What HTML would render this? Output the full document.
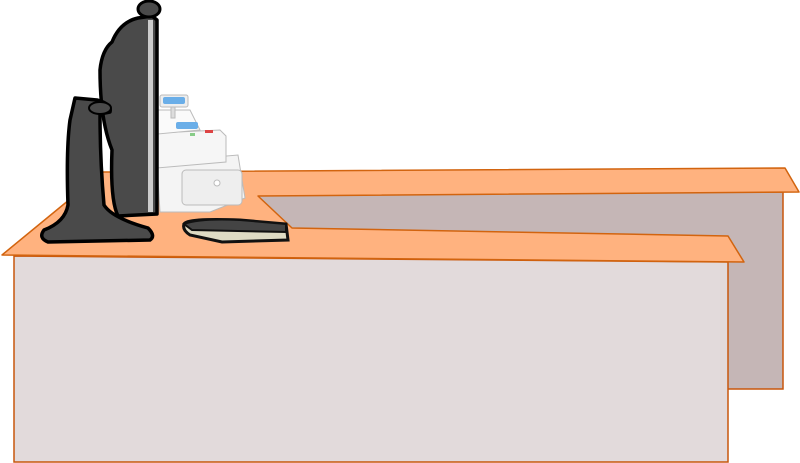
<!DOCTYPE html>
<html><head><style>html,body{margin:0;padding:0;background:#fff;width:800px;height:463px;overflow:hidden}</style></head>
<body>
<svg width="800" height="463" viewBox="0 0 800 463" xmlns="http://www.w3.org/2000/svg">
<rect x="258" y="192" width="525" height="197" fill="#c5b6b6" stroke="#c8560c" stroke-width="1.5"/>
<polygon points="14,256 728,262 728,462 14,462" fill="#e2dadb" stroke="#c8560c" stroke-width="1.5"/>
<polygon points="2,255 103,172 785,168 799,192 258,196 292,228 728,236 744,262" fill="#ffb27f" stroke="#d2640f" stroke-width="1.5" stroke-linejoin="round"/>
<g stroke="#bbb" stroke-width="1">
<path d="M157,162 L238,155 L245,198 L210,212 L160,212 Z" fill="#f4f4f4"/>
<rect x="182" y="170" width="60" height="35" rx="4" fill="#eee"/>
<circle cx="217" cy="183" r="3" fill="#fff"/>
<path d="M157,133 L220,130 L226,136 L226,162 L157,168 Z" fill="#f6f6f6"/>
<path d="M158,110 L190,110 L200,130 L158,134 Z" fill="#fafafa"/>
<rect x="171" y="104" width="4" height="14" fill="#ddd"/>
<rect x="160" y="95" width="28" height="12" rx="2" fill="#eee"/>
</g>
<rect x="163" y="97" width="22" height="7" rx="2" fill="#6aaee8"/>
<rect x="176" y="122" width="22" height="7" rx="2" fill="#6aaee8"/>
<rect x="190" y="133" width="5" height="3" fill="#8c8"/><rect x="205" y="130" width="8" height="3" fill="#d44"/>
<path d="M184,224 Q186,218 240,220 L286,224 L288,240 L222,242 L190,235 Q182,230 184,224Z" fill="#dedbc4" stroke="#111" stroke-width="3"/>
<path d="M184,224 Q200,218 240,220 L286,224 L286,232 L192,230Z" fill="#444" stroke="#111" stroke-width="2"/>
<path d="M112,42 Q120,22 138,18 L152,16 L157,20 L157,214 L118,216 Q110,200 112,150 Q100,120 100,70 Q102,50 112,42Z" fill="#4a4a4a" stroke="#000" stroke-width="3.5" stroke-linejoin="round"/>
<ellipse cx="149" cy="9" rx="11" ry="8" fill="#4a4a4a" stroke="#000" stroke-width="3"/>
<rect x="148" y="20" width="5" height="192" fill="#ccc"/>
<path d="M75,98 L97,100 Q112,104 110,112 L100,114 Q100,160 104,205 Q112,218 148,228 Q156,236 150,240 L48,242 Q38,238 44,230 Q65,222 68,205 Q66,150 70,120 Z" fill="#4a4a4a" stroke="#000" stroke-width="3.5" stroke-linejoin="round"/>
<ellipse cx="100" cy="108" rx="11" ry="6" fill="#4a4a4a" stroke="#000" stroke-width="2"/>
</svg>
</body></html>
